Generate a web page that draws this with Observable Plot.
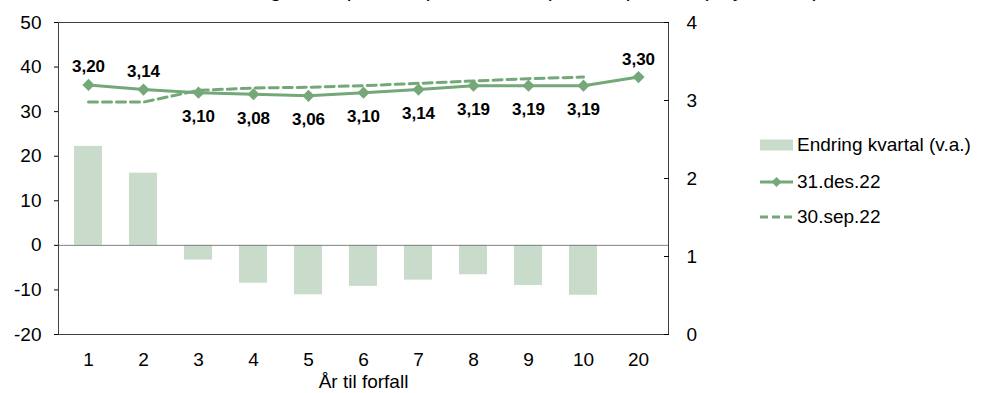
<!DOCTYPE html>
<html><head><meta charset="utf-8">
<script src="https://cdn.jsdelivr.net/npm/d3@7"></script>
<script src="https://cdn.jsdelivr.net/npm/@observablehq/plot@0.6"></script>
<style>
body{margin:0;background:#fff;font-family:Arial,"Liberation Sans",sans-serif;}
#wrap{position:relative;width:985px;height:393px;overflow:hidden;background:#fff;}
#chart{position:absolute;left:0;top:0;}
#title{position:absolute;left:209px;top:-21px;font-size:21px;line-height:21px;white-space:nowrap;color:#000;}
#legend{position:absolute;left:760px;top:0;width:225px;height:393px;font-size:19px;color:#000;}
.row{position:absolute;left:0;height:20px;display:flex;align-items:center;white-space:nowrap;}
.row svg{display:block;margin-right:4px;}
</style></head><body>
<div id="wrap"><div id="chart"></div><div id="title"></div><div id="legend"></div></div>
<script>
const years = ["1","2","3","4","5","6","7","8","9","10","20"];
const changeBp = [22.2, 16.2, -3.3, -8.5, -11.1, -9.2, -7.8, -6.6, -9.0, -11.2, null];
const dec22 = [3.20, 3.14, 3.10, 3.08, 3.06, 3.10, 3.14, 3.19, 3.19, 3.19, 3.30];
const sep22 = [2.98, 2.98, 3.13, 3.16, 3.17, 3.19, 3.22, 3.25, 3.28, 3.30, null];
const leftTicks = [-20, -10, 0, 10, 20, 30, 40, 50];
const rightTicks = [0, 1, 2, 3, 4];
const seriesNames = ["Endring kvartal (v.a.)", "31.des.22", "30.sep.22"];
const labelsAbove = ["1", "2", "20"];
const xLabel = "År til forfall";
const titleText = "Endring i basispunkter (venstre akse). Nivå i prosent (høyre akse)";

const barColor = "#c9dccb";
const lineColor = "#74a878";
const leftDomain = [-20, 50];
const rightDomain = [0, 4];
const toLeft = v => leftDomain[0] + (v - rightDomain[0]) * (leftDomain[1] - leftDomain[0]) / (rightDomain[1] - rightDomain[0]);
const toRight = d => rightDomain[0] + (d - leftDomain[0]) * (rightDomain[1] - rightDomain[0]) / (leftDomain[1] - leftDomain[0]);

const bars = years.map((y, i) => ({year: y, value: changeBp[i]})).filter(d => d.value != null);
const dec = years.map((y, i) => ({year: y, v: dec22[i]})).filter(d => d.v != null);
const sep = years.map((y, i) => ({year: y, v: sep22[i]})).filter(d => d.v != null);
const fmt = v => v.toFixed(2).replace(".", ",");

const chart = Plot.plot({
  width: 985, height: 393,
  marginLeft: 58, marginRight: 317, marginTop: 22, marginBottom: 59,
  style: {fontFamily: "Arial, 'Liberation Sans', sans-serif", fontSize: "19px", background: "transparent", color: "#000"},
  x: {type: "band", domain: years, paddingInner: 0.5, paddingOuter: 0.25},
  y: {domain: leftDomain},
  marks: [
    Plot.barY(bars, {x: "year", y: "value", fill: barColor}),
    Plot.ruleY([0], {stroke: "#808080", strokeWidth: 1}),
    Plot.frame({stroke: "#404040"}),
    Plot.axisY(leftTicks, {anchor: "left", tickSize: 4, tickPadding: 13, tickFormat: d => String(d), fontSize: 19, label: null}),
    Plot.axisY(rightTicks.map(toLeft), {anchor: "right", tickSize: -5, tickPadding: 23, tickFormat: d => String(Math.round(toRight(d))), fontSize: 19, label: null}),
    Plot.axisX({tickSize: 0, tickPadding: 18, fontSize: 19, label: null}),
    Plot.text([xLabel], {frameAnchor: "bottom", dy: 47, lineAnchor: "middle", fontSize: 19}),
    Plot.line(sep, {x: "year", y: d => toLeft(d.v), stroke: lineColor, strokeWidth: 3, strokeDasharray: "9,5"}),
    Plot.line(dec, {x: "year", y: d => toLeft(d.v), stroke: lineColor, strokeWidth: 3}),
    Plot.dot(dec, {x: "year", y: d => toLeft(d.v), symbol: "diamond2", r: 5.5, fill: lineColor, stroke: null}),
    Plot.text(dec.filter(d => labelsAbove.includes(d.year)), {x: "year", y: d => toLeft(d.v), text: d => fmt(d.v), dy: -18, fontSize: 17, fontWeight: "bold", fill: "#000", lineAnchor: "middle"}),
    Plot.text(dec.filter(d => !labelsAbove.includes(d.year)), {x: "year", y: d => toLeft(d.v), text: d => fmt(d.v), dy: 24, fontSize: 17, fontWeight: "bold", fill: "#000", lineAnchor: "middle"})
  ]
});
document.getElementById("chart").appendChild(chart);
document.getElementById("title").textContent = titleText;

const legend = document.getElementById("legend");
const rowsY = [145, 182, 217];
const swatches = [
  `<svg width="33" height="20"><rect x="0" y="4.5" width="33" height="11" fill="${barColor}"/></svg>`,
  `<svg width="33" height="20"><line x1="0" y1="10" x2="33" y2="10" stroke="${lineColor}" stroke-width="3"/><path d="M16.5,5 L21.5,10 L16.5,15 L11.5,10 Z" fill="${lineColor}"/></svg>`,
  `<svg width="33" height="20"><line x1="0" y1="10" x2="33" y2="10" stroke="${lineColor}" stroke-width="3" stroke-dasharray="8,4"/></svg>`
];
seriesNames.forEach((name, i) => {
  const row = document.createElement("div");
  row.className = "row";
  row.style.top = (rowsY[i] - 10) + "px";
  row.innerHTML = swatches[i] + `<span>${name}</span>`;
  legend.appendChild(row);
});
</script>
</body></html>
